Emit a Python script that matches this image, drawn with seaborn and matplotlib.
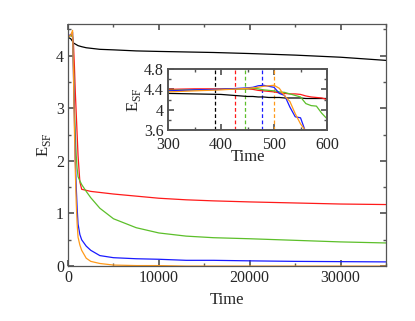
import numpy as np
import pandas as pd
import matplotlib
matplotlib.use("Agg")
import matplotlib.pyplot as plt
from matplotlib.ticker import MultipleLocator
import seaborn as sns

# --- data ---
runs = ["black", "red", "green", "blue", "orange"]
colors = ["#000000", "#ff1a1a", "#5cbf2a", "#1a1aff", "#ff9a1a"]

t_main = [0, 300, 500, 600, 700, 800, 900, 1000, 1100, 1300, 1500, 2000,
          2500, 3500, 5000, 7500, 10000, 13000, 16000, 20000, 25000, 30000, 35000]
e_black = [4.35, 4.32, 4.27, 4.24, 4.23, 4.22, 4.21, 4.20, 4.19, 4.18, 4.17,
           4.15, 4.14, 4.12, 4.11, 4.09, 4.08, 4.07, 4.06, 4.04, 4.01, 3.97, 3.91]
e_red = [4.35, 4.40, 4.35, 4.20, 3.80, 3.30, 2.90, 2.50, 2.10, 1.60, 1.46,
         1.44, 1.42, 1.40, 1.37, 1.33, 1.29, 1.26, 1.24, 1.22, 1.20, 1.18, 1.17]
e_green = [4.35, 4.38, 4.37, 3.82, 3.00, 2.50, 2.10, 1.85, 1.70, 1.62, 1.55,
           1.42, 1.30, 1.10, 0.90, 0.73, 0.63, 0.57, 0.54, 0.52, 0.49, 0.46, 0.44]
e_blue = [4.37, 4.40, 4.44, 3.60, 2.80, 2.00, 1.50, 1.10, 0.80, 0.60, 0.50,
          0.38, 0.30, 0.20, 0.16, 0.14, 0.13, 0.11, 0.11, 0.10, 0.09, 0.085, 0.08]
e_orange = [4.35, 4.39, 4.48, 3.60, 2.60, 1.80, 1.20, 0.80, 0.55, 0.40, 0.30,
            0.15, 0.09, 0.05, 0.02, 0.01, 0.01, 0.0, 0.0, 0.0, 0.0, 0.0, 0.0]

t_zoom = [300, 350, 400, 450, 460, 470, 480, 490, 500, 510, 520, 530, 540,
          550, 560, 570, 580, 590, 600]
z_black = [4.32, 4.31, 4.30, 4.26, 4.26, 4.25, 4.25, 4.24, 4.24, 4.24, 4.23,
           4.23, 4.23, 4.23, 4.22, 4.22, 4.22, 4.22, 4.22]
z_red = [4.40, 4.41, 4.41, 4.41, 4.40, 4.38, 4.37, 4.36, 4.35, 4.33, 4.32,
         4.31, 4.31, 4.30, 4.27, 4.25, 4.24, 4.23, 4.20]
z_green = [4.38, 4.39, 4.40, 4.41, 4.42, 4.41, 4.39, 4.38, 4.37, 4.35, 4.34,
           4.31, 4.28, 4.25, 4.12, 4.08, 4.07, 3.93, 3.82]
z_blue = [4.37, 4.39, 4.40, 4.43, 4.44, 4.47, 4.48, 4.46, 4.44, 4.32, 4.28,
          4.05, 3.86, 3.84, 3.55, 3.40, 3.30, 3.20, 3.10]
z_orange = [4.35, 4.37, 4.39, 4.42, 4.43, 4.44, 4.46, 4.47, 4.48, 4.42, 4.27,
            4.16, 3.92, 3.72, 3.58, 3.40, 3.30, 3.20, 3.10]

t_break = [388, 427, 445, 478, 500]

main = pd.concat([pd.DataFrame({"Time": t_main, "E": e, "run": r})
                  for r, e in zip(runs, [e_black, e_red, e_green, e_blue, e_orange])])
zoom = pd.concat([pd.DataFrame({"Time": t_zoom, "E": e, "run": r})
                  for r, e in zip(runs, [z_black, z_red, z_green, z_blue, z_orange])])

sns.set_theme(style="ticks")
plt.rcParams["font.family"] = ["Liberation Serif", "DejaVu Serif"]
plt.rcParams["mathtext.fontset"] = "custom"
plt.rcParams["mathtext.rm"] = "Liberation Serif"
pal = dict(zip(runs, colors))

fig = plt.figure(figsize=(4.15, 3.21), dpi=100)
ax = fig.add_axes([0.164, 0.171, 0.766, 0.754])
sns.lineplot(data=main, x="Time", y="E", hue="run", palette=pal, estimator=None,
             sort=False, legend=False, lw=0.9, ax=ax)
ax.set_xlim(0, 35000)
ax.set_ylim(0, 4.6)
ax.xaxis.set_major_locator(MultipleLocator(10000))
ax.xaxis.set_minor_locator(MultipleLocator(5000))
ax.yaxis.set_major_locator(MultipleLocator(1))
ax.yaxis.set_minor_locator(MultipleLocator(0.5))
ax.set_xlabel("Time", fontsize=12)
ax.set_ylabel(r"E$_{\mathrm{SF}}$", fontsize=12, labelpad=2)

ins = fig.add_axes([0.405, 0.595, 0.383, 0.19])
for tb, c in zip(t_break, colors):
    ins.axvline(tb, color=c, ls=(0, (3, 2)), lw=0.9)
sns.lineplot(data=zoom, x="Time", y="E", hue="run", palette=pal, estimator=None,
             sort=False, legend=False, lw=0.9, ax=ins)
ins.set_xlim(300, 600)
ins.set_ylim(3.6, 4.8)
ins.xaxis.set_major_locator(MultipleLocator(100))
ins.xaxis.set_minor_locator(MultipleLocator(50))
ins.yaxis.set_minor_locator(MultipleLocator(0.2))
ins.set_yticks([3.6, 4.0, 4.4, 4.8])
ins.set_yticklabels(["3.6", "4", "4.4", "4.8"])
ins.set_xlabel("Time", fontsize=12, labelpad=-3)
ins.set_ylabel(r"E$_{\mathrm{SF}}$", fontsize=12, labelpad=1)

for a, lw in [(ax, 0.9), (ins, 1.4)]:
    for s in a.spines.values():
        s.set_color("#555555")
        s.set_linewidth(lw)
    a.tick_params(which="both", direction="in", top=True, right=True,
                  labelsize=11.5, color="#555555", pad=3)
    a.tick_params(which="major", length=4)
    a.tick_params(which="minor", length=2.5)
ins.tick_params(axis="x", which="both", pad=5)

fig.savefig("out.png", dpi=100)
